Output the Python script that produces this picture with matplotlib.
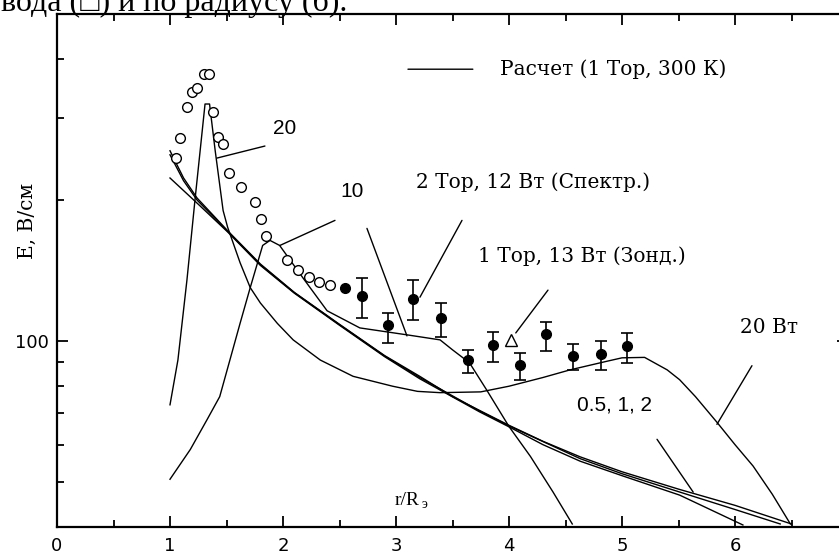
import numpy as np
import matplotlib
matplotlib.use("Agg")
import matplotlib.pyplot as plt
from matplotlib.ticker import FixedLocator, LogLocator, NullFormatter, FuncFormatter

# --- curve "20" (peak near r/R = 1.3, then the 20 W hump)
x_20 = [1.00, 1.07, 1.15, 1.22, 1.31, 1.35, 1.40, 1.47, 1.51, 1.62, 1.71, 1.80, 1.95, 2.09,
        2.33, 2.62, 2.97, 3.19, 3.39, 3.75, 4.00, 4.30, 4.54, 4.87, 5.00, 5.20, 5.40, 5.51,
        5.65, 5.84, 6.00, 6.16, 6.33, 6.49]
E_20 = [73, 91, 135, 199, 321, 321, 255, 190, 175, 147, 130, 120.5, 109, 100.5,
        91, 84, 80, 78, 77.5, 77.8, 80, 83.5, 86.7, 90.5, 92, 92.2, 86.7, 82.6,
        76, 67, 60, 54, 47, 40.6]

# --- curve "10"
x_10 = [1.00, 1.18, 1.33, 1.44, 1.53, 1.62, 1.71, 1.82, 1.885, 1.97, 2.18, 2.39, 2.68, 3.10,
        3.39, 3.50, 3.65, 3.80, 4.00, 4.19, 4.39, 4.56]
E_10 = [50.6, 58.6, 68, 76, 91, 109, 130, 160, 164, 160, 136, 116, 106.6, 103,
        100.5, 95.7, 89.8, 78.7, 65.6, 56.6, 47.5, 40.6]

# --- bundle "0.5, 1, 2"
x_c1 = [1.0, 1.12, 1.24, 1.51, 1.80, 2.1, 2.5, 2.9, 3.21, 3.5, 3.74, 4.0, 4.3, 4.63, 5.0, 5.5, 6.0, 6.5]
E_c1 = [255, 223, 202, 172, 146, 127, 108.5, 93, 84, 76, 71, 66, 61, 56.5, 52.5, 48.2, 44.5, 40.6]
x_c2 = [1.0, 1.12, 1.24, 1.51, 1.80, 2.1, 2.5, 2.9, 3.21, 3.74, 4.0, 4.63, 5.0, 5.5, 6.0, 6.4]
E_c2 = [250, 220, 200, 171.5, 145.5, 126.8, 108.3, 92.8, 83.5, 70.8, 65.8, 56, 52, 47.6, 43.6, 40.6]
x_c3 = [1.0, 1.25, 1.51, 1.8, 2.1, 2.5, 2.9, 3.21, 3.74, 4.0, 4.3, 4.63, 5.0, 5.51, 6.07]
E_c3 = [223, 196, 171, 145, 126.5, 108, 92.5, 83, 70.5, 65.5, 60, 55.3, 51.5, 46.8, 40.4]

# --- spectroscopy (open circles)
x_spec = [1.053, 1.088, 1.150, 1.195, 1.239, 1.301, 1.345, 1.381, 1.425, 1.469, 1.522,
          1.628, 1.752, 1.805, 1.850, 2.035, 2.133, 2.230, 2.319, 2.416]
E_spec = [246, 272, 316, 340, 347, 373, 373, 309, 273, 264, 229,
          213, 198, 182, 168, 149, 142, 137, 133.5, 132]

# --- probe (filled circles with error bars)
x_probe = [2.70, 2.93, 3.15, 3.40, 3.64, 3.86, 4.10, 4.33, 4.57, 4.81, 5.04]
E_probe = [125, 108, 123, 112, 91, 98, 89, 103.5, 93, 93.8, 97.6]
E_hi = [136, 115, 135, 120.5, 95.7, 104.5, 94.3, 110, 98.5, 100, 104]
E_lo = [112, 99, 111, 102, 85.5, 90, 82.6, 95.2, 86.8, 86.8, 89.8]
x_single, E_single = [2.549], [130]
x_tri, E_tri = [4.02], [100.5]

# pointer lines (from, to) in data units
pointers = [((1.416, 246), (1.84, 261)),
            ((1.973, 160), (2.46, 181)),
            ((2.743, 174), (3.097, 102.5)),
            ((3.584, 181), (3.212, 124)),
            ((4.345, 128.4), (4.06, 104)),
            ((6.15, 88.5), (5.84, 66.3)),
            ((5.31, 61.6), (5.63, 47.5)),
            ((3.106, 381), (3.68, 381))]

serif = "DejaVu Serif"
sans = "DejaVu Sans"

fig = plt.figure(figsize=(8.39, 5.54), dpi=100)
ax = fig.add_axes([57 / 839, 27 / 554, 791 / 839, 513 / 554])
ax.set_yscale("log")
ax.set_xlim(0, 7)
ax.set_ylim(40, 500)

lw = 1.0
for xs, ys in [(x_20, E_20), (x_10, E_10), (x_c1, E_c1), (x_c2, E_c2), (x_c3, E_c3)]:
    ax.plot(xs, ys, color="black", lw=lw, solid_joinstyle="round")

ax.plot(x_spec, E_spec, "o", ms=7, mfc="white", mec="black", mew=1.0)
yerr = [np.array(E_probe) - np.array(E_lo), np.array(E_hi) - np.array(E_probe)]
ax.errorbar(x_probe, E_probe, yerr=yerr, fmt="o", ms=7, color="black",
            ecolor="black", elinewidth=1.2, capsize=4, capthick=1.2)
ax.plot(x_single, E_single, "o", ms=7, color="black")
ax.plot(x_tri, E_tri, "^", ms=8, mfc="white", mec="black", mew=1.0)

for p0, p1 in pointers:
    ax.annotate("", xy=p1, xytext=p0,
                arrowprops=dict(arrowstyle="-", color="black", lw=1.0, shrinkA=0, shrinkB=0))

ax.text(3.92, 381, "Расчет (1 Тор, 300 К)", family=serif, fontsize=14.5, va="center")
ax.text(1.91, 284, "20", family="Liberation Sans", fontsize=15, va="center")
ax.text(2.51, 209, "10", family="Liberation Sans", fontsize=15, va="center")
ax.text(3.18, 218, "2 Тор, 12 Вт (Спектр.)", family=serif, fontsize=14.5, va="center")
ax.text(3.73, 151.5, "1 Тор, 13 Вт (Зонд.)", family=serif, fontsize=14.5, va="center")
ax.text(6.04, 107, "20 Вт", family=serif, fontsize=14.5, va="center")
ax.text(4.60, 73, "0.5, 1, 2", family="Liberation Sans", fontsize=15, va="center")
ax.text(2.99, 45.6, "r/R", family="Liberation Serif", fontsize=14, va="center")
ax.text(3.225, 44.6, "э", family="Liberation Serif", fontsize=10, va="center")

fig.text(27 / 839, 1 - 221 / 554, "E, В/см", family=serif, fontsize=14.5,
         rotation=90, ha="center", va="center")
fig.text(347 / 839, 1 - 11 / 554, "вода (□) и по радиусу (б).",
         family=["Liberation Serif", "DejaVu Sans"], fontsize=23, ha="right", va="baseline")

# ticks
ax.xaxis.set_major_locator(FixedLocator(range(0, 8)))
ax.xaxis.set_minor_locator(FixedLocator(np.arange(0.5, 7, 1.0)))
ax.yaxis.set_major_locator(FixedLocator([100]))
ax.yaxis.set_minor_locator(LogLocator(base=10, subs=range(2, 10)))
ax.yaxis.set_minor_formatter(NullFormatter())
ax.yaxis.set_major_formatter(FuncFormatter(lambda v, _: "%d" % v))
ax.tick_params(which="both", direction="in", top=True, right=True, width=1.3)
ax.tick_params(which="major", length=8, labelsize=13)
ax.tick_params(axis="x", which="major", pad=7)
ax.tick_params(axis="y", which="major", pad=6)
ax.tick_params(which="minor", length=5)
for lab in ax.get_xticklabels() + ax.get_yticklabels():
    lab.set_family(sans)
for s in ax.spines.values():
    s.set_linewidth(1.6)

fig.savefig("out.png", dpi=100)
